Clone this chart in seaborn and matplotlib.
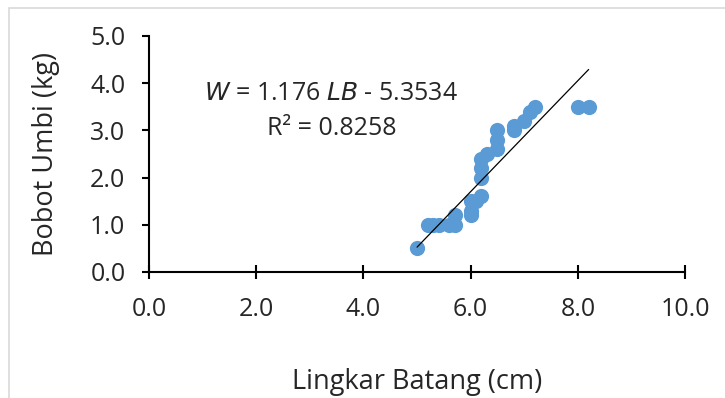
import numpy as np
import pandas as pd
import matplotlib
matplotlib.use("Agg")
import matplotlib.pyplot as plt
import seaborn as sns

lingkar = [5.0, 5.2, 5.3, 5.4, 5.6, 5.7, 5.7, 6.0, 6.0, 6.0, 6.1, 6.2,
           6.2, 6.2, 6.2, 6.3, 6.5, 6.5, 6.5, 6.8, 6.8, 7.0, 7.1, 7.2, 8.0, 8.2]
bobot = [0.5, 1.0, 1.0, 1.0, 1.0, 1.0, 1.2, 1.2, 1.3, 1.5, 1.5, 1.6,
         2.0, 2.2, 2.4, 2.5, 2.6, 2.8, 3.0, 3.0, 3.1, 3.2, 3.4, 3.5, 3.5, 3.5]
slope = 1.176
intercept = -5.3534
x_ticks = [0.0, 2.0, 4.0, 6.0, 8.0, 10.0]
y_ticks = [0.0, 1.0, 2.0, 3.0, 4.0, 5.0]

df = pd.DataFrame({"x": lingkar, "y": bobot})

sns.set_style("white")
plt.rcParams['font.family'] = ['Open Sans', 'DejaVu Sans']

fig = plt.figure(figsize=(7.25, 3.98), dpi=100)
# outer light border
fig.patches.append(plt.Rectangle((0.012, -0.01), 1.0, 0.99, transform=fig.transFigure,
                                 fill=False, edgecolor="#d9d9d9", linewidth=1.2))
ax = fig.add_axes([0.2055, 0.3166, 0.7395, 0.593])

sns.scatterplot(data=df, x="x", y="y", ax=ax, color="#5B9BD5", s=120,
                edgecolor="#5B9BD5", linewidth=0, zorder=2)
lx = np.array([min(lingkar), max(lingkar)])
ax.plot(lx, slope * lx + intercept, color="black", linewidth=0.9, zorder=3)

ax.set_xlim(0, 10)
ax.set_ylim(0, 5)
ax.set_xticks(x_ticks)
ax.set_yticks(y_ticks)
ax.set_xticklabels([f"{v:.1f}" for v in x_ticks], fontsize=18)
ax.set_yticklabels([f"{v:.1f}" for v in y_ticks], fontsize=18)
ax.tick_params(axis="y", direction="out", length=5, width=1.5, color="black",
               pad=12, left=True)
ax.tick_params(axis="x", direction="inout", length=10, width=1.5, color="black",
               pad=13, bottom=True)
for s in ["top", "right"]:
    ax.spines[s].set_visible(False)
for s in ["left", "bottom"]:
    ax.spines[s].set_color("black")
    ax.spines[s].set_linewidth(1.5)

ax.set_xlabel("Lingkar Batang (cm)", fontsize=19.5, labelpad=33)
ax.set_ylabel("Bobot Umbi (kg)", fontsize=19.5, labelpad=22)

ax.text(3.4, 3.79, r"$\it{W}$ = 1.176 $\it{LB}$ - 5.3534", fontsize=18,
        ha="center", va="center")
ax.text(3.4, 3.05, "R² = 0.8258", fontsize=18, ha="center", va="center")

fig.savefig("out.png", dpi=100)
